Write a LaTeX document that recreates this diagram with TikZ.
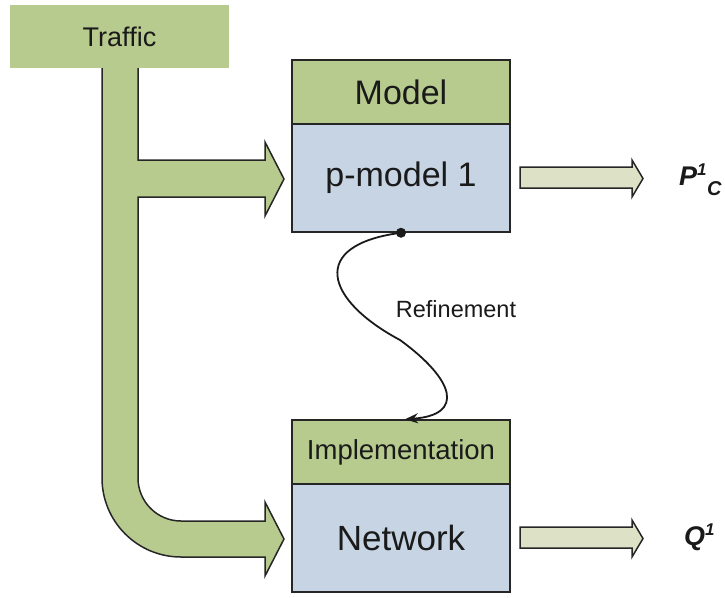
\documentclass[tikz,border=0pt]{standalone}
\usepackage{fontspec}
\setmainfont{Liberation Sans}
\usetikzlibrary{arrows.meta,calc}

\definecolor{leafgreen}{HTML}{B8CB8F}
\definecolor{paleblue}{HTML}{C6D4E4}
\definecolor{palegreen}{HTML}{DDE2C6}
\definecolor{edge}{HTML}{262626}
\definecolor{ink}{HTML}{1A1A1A}

\newcommand{\fs}[1]{\fontsize{#1}{#1}\selectfont}

\begin{document}
\begin{tikzpicture}[x=1pt,y=-1pt,
  every node/.style={text=ink},
  hdr/.style={draw=edge,line width=1.5pt,fill=leafgreen,minimum width=218pt,
    minimum height=64pt,inner sep=0pt},
  body/.style={draw=edge,line width=1.5pt,fill=paleblue,minimum width=218pt,
    minimum height=108pt,inner sep=0pt},
  bigarrow/.style={fill=leafgreen,draw=edge,line width=1.5pt,line join=miter},
  outarrow/.style={fill=palegreen,draw=edge,line width=1.5pt,line join=miter},
  refine/.style={draw=ink,line width=1.8pt,-{Stealth[length=13pt,width=10pt]}}]

\useasboundingbox (0,0) rectangle (725,597);

% forked traffic arrow feeding both blocks
\path[bigarrow] (102,66) -- (102,478)
  arc[start angle=180,end angle=270,radius=79pt]
  -- (265,557) -- (265,576) -- (284,539) -- (265,502) -- (265,521) -- (181,521)
  arc[start angle=270,end angle=180,radius=43pt]
  -- (138,197) -- (265,197) -- (265,216) -- (284,179) -- (265,142) -- (265,160)
  -- (138,160) -- (138,66) -- cycle;

% source box
\node[fill=leafgreen,minimum width=219pt,minimum height=63pt,inner sep=0pt]
  (traffic) at (119.5,36.5) {\fs{27}Traffic};

% model block
\node[hdr] (modelhd) at (401,92) {\fs{34}Model};
\node[body] (pmodel) at (401,178) {\fs{34}p-model 1};

% implementation block
\node[hdr] (implhd) at (401,452) {\fs{27.5}Implementation};
\node[body] (network) at (401,538) {\fs{35}Network};

% outputs
\path[outarrow] (520,167) -- (632,167) -- (632,160) -- (643,178.5) -- (632,197)
  -- (632,188) -- (520,188) -- cycle;
\path[outarrow] (520,527) -- (632,527) -- (632,520) -- (643,538.5) -- (632,557)
  -- (632,548) -- (520,548) -- cycle;

\node[anchor=base west,inner sep=0pt] (pout) at (679,185)
  {\fs{27}\bfseries\itshape P\raisebox{0.36em}{\fs{17}1}\hspace{0.5pt}\raisebox{-0.38em}{\fs{20}C}};
\node[anchor=base west,inner sep=0pt] (qout) at (684,545)
  {\fs{27}\bfseries\itshape Q\raisebox{0.36em}{\fs{17}1}};

% refinement relation
\fill[ink] (pmodel.south) circle (5pt);
\draw[refine] (pmodel.south) .. controls (308,245) and (325,300) .. (400,340)
  .. controls (455,380) and (465,415) .. ($(implhd.north)+(4,0)$);
\node (reflabel) at (456,309) {\fs{23.5}Refinement};

\end{tikzpicture}
\end{document}
